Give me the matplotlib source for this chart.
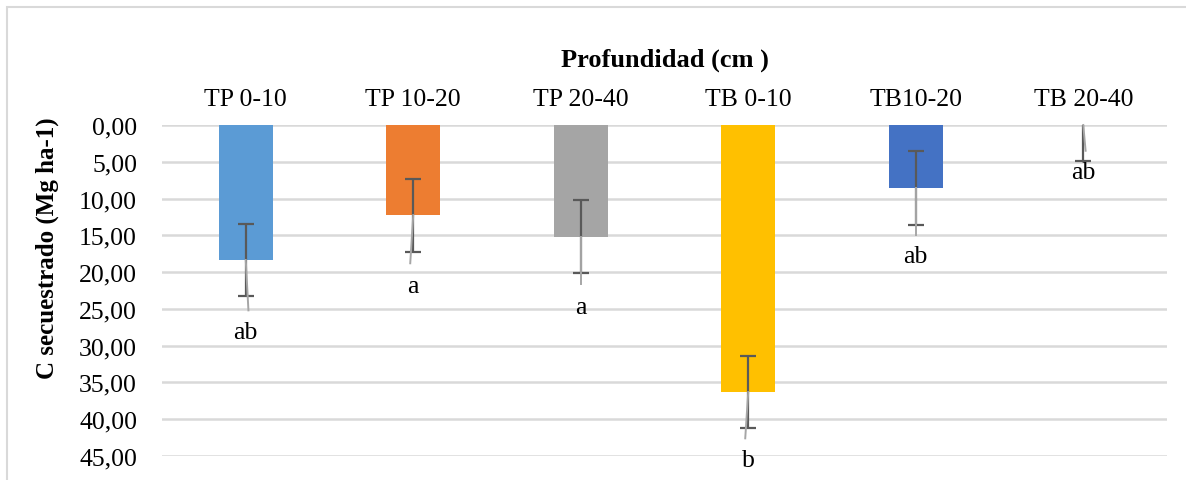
import matplotlib.pyplot as plt
import numpy as np
from matplotlib.patches import Rectangle
from matplotlib.ticker import FuncFormatter, MultipleLocator

plt.rcParams['font.family'] = ['Liberation Serif', 'DejaVu Serif']

# Datos
categorias = ['TP 0-10', 'TP 10-20', 'TP 20-40', 'TB 0-10', 'TB10-20', 'TB 20-40']
c_secuestrado = [18.35, 12.25, 15.2, 36.3, 8.55, 0.0]
error = [4.95, 4.95, 4.95, 4.95, 5.0, 4.95]
letras = ['ab', 'a', 'a', 'b', 'ab', 'ab']
pos_letras = [28.2, 21.9, 24.8, 45.6, 17.8, 6.4]
fin_guia = [25.2, 18.8, 21.6, 42.6, 14.9, 3.5]
colores = ['#5b9bd5', '#ed7d31', '#a5a5a5', '#ffc000', '#4472c4', '#5b9bd5']

fig = plt.figure(figsize=(11.86, 4.81), dpi=100)
ax = fig.add_axes([162 / 1186, 1 - 457 / 481, (1167 - 162) / 1186, (457 - 126) / 481])

x = np.arange(len(categorias))
ax.bar(x, c_secuestrado, width=0.32, color=colores, zorder=2)

ax.errorbar(x, c_secuestrado, yerr=error, fmt='none', ecolor='#595959',
            elinewidth=1.6, capsize=5.5, capthick=1.6, zorder=3)

# lineas guia de las etiquetas (grises claras, algo inclinadas), encima de la barra de error
desvio = [0.016, -0.018, 0.0, -0.018, 0.0, 0.014]
for i in range(len(x)):
    ax.plot([x[i], x[i] + desvio[i]], [c_secuestrado[i], fin_guia[i]],
            color='#a6a6a6', lw=1.4, zorder=4, clip_on=False)

for i in range(len(x)):
    ax.text(x[i], pos_letras[i], letras[i], ha='center', va='center',
            fontsize=18.5, zorder=5, clip_on=False)

ax.set_ylim(45, 0)
ax.set_xlim(-0.5, len(categorias) - 0.5)
ax.yaxis.set_major_locator(MultipleLocator(5))
ax.yaxis.set_major_formatter(FuncFormatter(lambda v, p: f'{v:.2f}'.replace('.', ',')))
ax.grid(axis='y', color='#d9d9d9', lw=1.8, zorder=0)
ax.set_axisbelow(True)

ax.xaxis.tick_top()
ax.set_xticks(x)
ax.set_xticklabels(categorias)
ax.tick_params(axis='both', length=0, labelsize=18.5)
ax.tick_params(axis='x', pad=11)
ax.tick_params(axis='y', pad=18)
for s in ax.spines.values():
    s.set_visible(False)

fig.text(47 / 1186, 1 - 248 / 481, 'C secuestrado (Mg ha-1)', rotation=90, ha='center',
         va='center', fontsize=18, fontweight='bold')
fig.text((162 + 1167) / 2 / 1186, 1 - 60 / 481, 'Profundidad (cm )', ha='center',
         va='center', fontsize=19, fontweight='bold')

# marco del grafico
fig.patches.append(Rectangle((7 / 1186, -0.1), 1.2, 1 - 8 / 481 + 0.1, transform=fig.transFigure,
                             fill=False, edgecolor='#d9d9d9', lw=1.5))

fig.savefig('out.png', dpi=100)
